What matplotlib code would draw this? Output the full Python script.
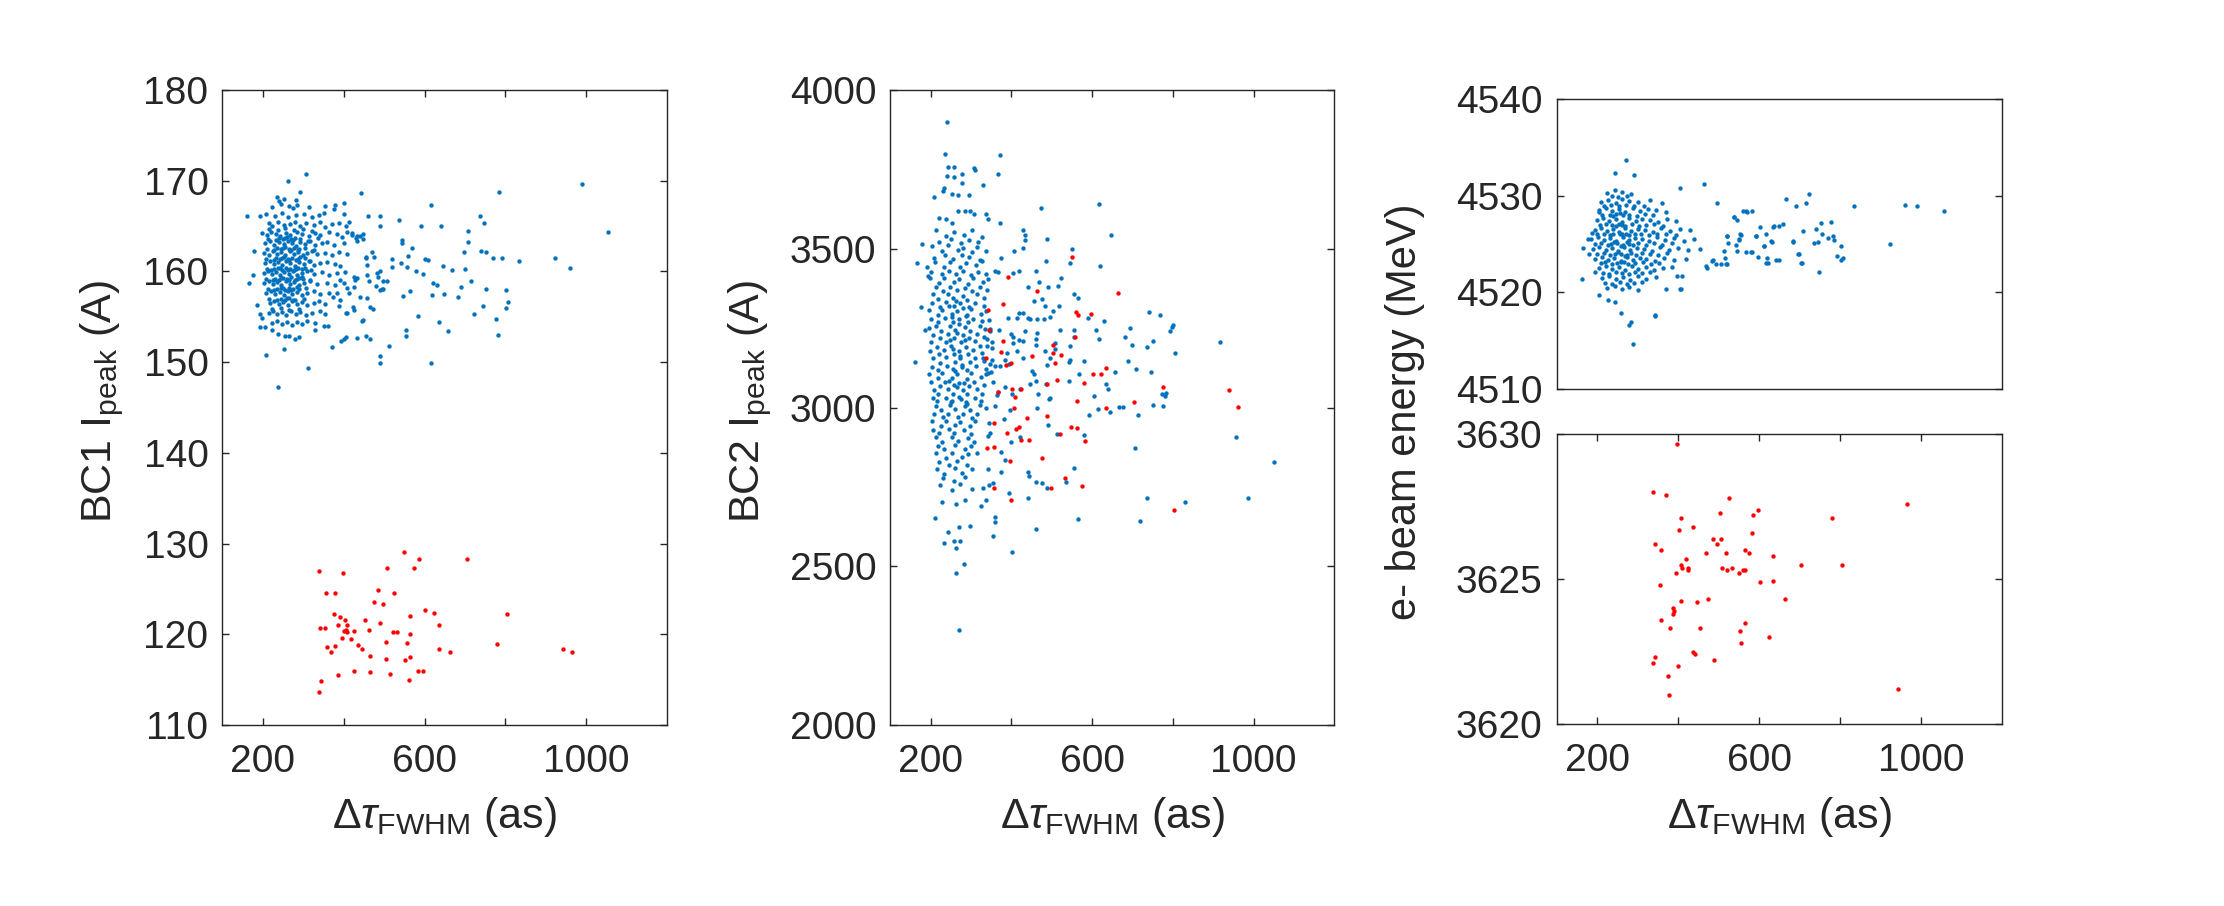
"""
Three scatter panels: BC1 / BC2 peak current and e-beam energy vs pulse duration
"""

import numpy as np
import matplotlib
matplotlib.use('Agg')
import matplotlib.pyplot as plt

plt.rcParams['font.family'] = ['Liberation Sans', 'DejaVu Sans']
plt.rcParams['mathtext.fontset'] = 'custom'
plt.rcParams['mathtext.rm'] = 'Liberation Sans'
plt.rcParams['mathtext.it'] = 'Liberation Sans:italic'
plt.rcParams['mathtext.bf'] = 'Liberation Sans:bold'

BLUE = '#0072BD'
RED = '#FF0000'
DARK = '#262626'

# ---------------- data: (delta tau [as], value) ----------------
# panel 1 : BC1 I_peak (A)
bc1_blue = [
    (307.8, 170.7), (262.5, 170.0), (291, 168.8), (442, 168.7), (614.8, 167.3), (784, 168.8),
    (989, 169.6), (1054, 164.4), (161, 166.1), (192.6, 166.1), (400.8, 167.5), (461, 166.1),
    (490.5, 166.1), (537.4, 165.7), (591, 165.0), (641, 165.0), (489.7, 165.0), (707.8, 164.5),
    (736.6, 166.1), (748, 165.3), (707.8, 163.2), (544.8, 163.5), (544.8, 163.1), (567.9, 162.6),
    (559.6, 161.7), (518.5, 161.4), (518.5, 160.5), (469, 162.1), (456, 161.6), (600.8, 161.4),
    (607.7, 161.3), (542, 160.9), (556.4, 160.5), (580, 160.1), (595, 159.7), (646, 160.6),
    (668, 160.2), (697, 162.1), (701, 160.3), (740, 162.2), (753, 162.1), (770, 161.5),
    (792.6, 161.5), (833.7, 161.2), (921.8, 161.5), (959.6, 160.4), (715, 159.0), (690.5, 158.3),
    (622, 158.7), (630, 158.5), (618, 157.4), (647.7, 157.5), (682, 157.2), (753, 158.1),
    (802.5, 158.0), (807.4, 156.6), (802.5, 156.0), (744, 156.2), (721, 155.3), (776, 154.8),
    (782, 153.0), (582.7, 155.1), (635.4, 154.4), (657.6, 153.4), (554, 153.5), (554, 152.9),
    (512, 151.8), (489, 150.7), (490.5, 149.9), (617, 149.9), (565, 157.8), (546.5, 157.3),
    (506, 158.9), (494.6, 158.1), (466, 152.6), (454, 152.9), (433.7, 152.7), (405.8, 152.8),
    (401.6, 152.6), (393, 152.3), (371, 151.7), (445, 154.5), (448.5, 154.6), (312, 149.4),
    (237, 147.3), (208, 150.8), (253.5, 151.5), (175, 159.6), (166, 158.75), (179, 162.2),
    (186.8, 156.3), (192.6, 155.3), (198, 154.9), (194, 153.9), (206.6, 153.9), (223, 153.5),
    (238, 153.1), (254, 152.9), (264, 152.9), (279, 152.6), (289, 152.8), (328, 153.5),
    (350.6, 154.0), (362, 154.0), (409, 155.4),
    (408, 164.4), (420, 164.0), (430, 163.7), (441, 163.9), (433, 163.3), (447, 163.6),
    (455, 161.5), (457.6, 160.7), (474, 161.6), (424.7, 159.4), (428.8, 159.1), (433, 159.3),
    (426, 158.3), (457.6, 159.6), (461.7, 158.9), (482, 159.8), (486, 159.4), (490.5, 160.0),
    (497, 158.9), (391.8, 159.1), (400, 158.7), (408, 158.2), (412, 157.6), (441, 157.2),
    (457.6, 157.1), (466, 156.1), (472, 155.9), (423, 156.1), (426, 155.8), (406.6, 155.4),
    (490.5, 158.0), (497, 158.1), (480.6, 158.4), (383.5, 157.6), (373.7, 157.2), (392, 156.9),
    (387.6, 156.2),
    (234, 168.2), (252, 168.0), (241, 167.8), (283, 167.9),
    (222, 167.1), (244, 167.4), (264, 167.2), (275, 167.0), (285, 167.3), (315, 167.1),
    (355, 167.2), (375, 166.9), (379, 167.3),
    (207, 166.3), (231, 166.1), (248, 166.4), (262, 166.0), (281, 166.2), (301, 166.3),
    (322, 166.0), (338, 166.2), (352, 166.4), (400, 166.3),
    (214.8, 165.3), (223, 165.0), (237, 165.4), (251.8, 165.1), (266.7, 165.2), (279, 165.5),
    (293, 165.0), (307.8, 165.3), (325.9, 165.1), (340.7, 165.4), (354.7, 164.9), (371.2, 165.2),
    (387.6, 165.3), (405.8, 165.0), (412.3, 165.4),
    (198.4, 164.2), (210.7, 164.0), (220.6, 164.3), (233.7, 164.1), (243.6, 163.9), (258.4, 164.2),
    (268.3, 164.0), (284.8, 164.3), (297.1, 164.1), (313.6, 163.9), (330, 164.2), (342.4, 164.0),
    (363, 164.3), (383.5, 164.1), (395.9, 163.8), (420.6, 164.2), (432.9, 163.9), (447.7, 164.1),
    (206.6, 163.1), (218.9, 163.3), (228.8, 162.9), (239.5, 163.2), (251.8, 163.0), (261.7, 163.3),
    (272.4, 163.1), (283.1, 162.8), (293, 163.2), (305.3, 163.0), (317.7, 163.3), (330, 162.9),
    (346.5, 163.1), (358.8, 163.2), (375.3, 162.9), (400, 163.1),
    (202.5, 162.0), (214.8, 161.8), (225.5, 162.2), (235.4, 161.9), (245.3, 162.1), (256, 161.8),
    (266.7, 162.2), (276.5, 161.9), (287.2, 162.1), (299.6, 161.8), (309.5, 162.0), (321.8, 162.2),
    (334.1, 161.9), (354.7, 162.0), (371.2, 161.8), (387.6, 162.1), (408.2, 161.9),
    (206.6, 160.9), (217.3, 161.1), (227.2, 160.8), (237.9, 161.0), (247.7, 160.7), (258.4, 161.1),
    (268.3, 160.9), (279, 160.6), (289.7, 161.0), (301.2, 160.8), (313.6, 161.1), (325.9, 160.7),
    (342.4, 160.9), (358.8, 161.0), (379.4, 160.8), (391.8, 160.6),
    (202.5, 159.8), (213.2, 160.0), (223, 159.7), (233.7, 159.9), (243.6, 159.6), (253.5, 159.9),
    (264.2, 159.7), (274.9, 160.0), (284.8, 159.6), (297.1, 159.8), (309.5, 160.0), (325.9, 159.7),
    (346.5, 159.9), (363, 159.6), (383.5, 159.8), (404.1, 159.9),
    (202.5, 158.7), (214.8, 158.9), (225.5, 158.6), (235.4, 158.8), (246, 158.5), (256.8, 158.9),
    (266.7, 158.6), (278.2, 158.8), (289.7, 158.5), (302.9, 158.7), (317.7, 158.9), (334.1, 158.6),
    (358.8, 158.7), (379.4, 158.5),
    (209, 157.6), (220.6, 157.8), (231.3, 157.5), (242, 157.7), (251.8, 157.4), (262.5, 157.8),
    (273.2, 157.5), (284.8, 157.7), (297.1, 157.4), (309.5, 157.6), (327.6, 157.8), (342.4, 157.5),
    (363, 157.6),
    (218.9, 156.5), (228.8, 156.7), (239.5, 156.4), (250.2, 156.6), (261.7, 156.3), (272.4, 156.7),
    (284.8, 156.4), (297.1, 156.6), (309.5, 156.3), (325.9, 156.5), (338.3, 156.7), (354.7, 156.4),
    (214.8, 155.4), (225.5, 155.6), (235.4, 155.3), (247.7, 155.5), (258.4, 155.2), (270, 155.6),
    (282.3, 155.3), (293, 155.5), (307.8, 155.2), (321.8, 155.4), (340.7, 155.6), (354.7, 155.3),
    (223, 154.3), (235.4, 154.5), (247.7, 154.2), (260, 154.4), (272.4, 154.1), (284.8, 154.4),
    (297.1, 154.2), (309.5, 154.5), (330, 154.3),
    (228, 160.3), (238, 160.4), (248, 160.2), (258, 160.4), (268, 160.3), (278, 160.2),
    (288, 160.4), (298, 160.3), (232, 161.5), (242, 161.4), (252, 161.6), (262, 161.4),
    (272, 161.5), (282, 161.3), (292, 161.6), (230, 159.2), (240, 159.1), (250, 159.3),
    (260, 159.2), (270, 159.4), (280, 159.1), (290, 159.3), (300, 159.2), (236, 162.6),
    (246, 162.5), (256, 162.7), (266, 162.5), (276, 162.6), (286, 162.4), (234, 158.1),
    (244, 158.2), (254, 158.0), (264, 158.2), (274, 158.1), (284, 158.3), (240, 163.7),
    (250, 163.6), (260, 163.8), (270, 163.6), (280, 163.7), (245, 157.0), (255, 156.9),
    (265, 157.1), (275, 156.9),
    (216, 164.7), (238, 164.6), (256, 164.8), (276, 164.6), (299, 164.7), (322, 164.5),
    (212, 163.6), (232, 163.5), (254, 163.7), (275, 163.5), (292, 163.6), (311, 163.4), (336, 163.7),
    (210, 162.5), (228, 162.4), (249, 162.6), (270, 162.4), (290, 162.5), (305, 162.6), (326, 162.4),
    (209, 161.4), (227, 161.3), (247, 161.5), (264, 161.3), (286, 161.4), (305, 161.5), (318, 161.2),
    (210, 160.3), (220, 160.2), (243, 160.4), (262, 160.2), (283, 160.3), (305, 160.4), (320, 160.2),
    (209, 159.2), (226, 159.1), (246, 159.3), (264, 159.1), (285, 159.2), (296, 159.4), (317, 159.1),
    (212, 158.1), (229, 158.0), (250, 158.2), (269, 158.0), (289, 158.1), (307, 158.2),
    (215, 157.0), (236, 156.9), (260, 157.1), (280, 156.9), (301, 157.0),
    (222, 155.9), (244, 156.0), (266, 155.8), (289, 155.9),
]

bc1_red = [
    (338, 127.0), (398, 126.8), (549, 129.1), (586, 128.3), (704, 128.3), (508, 127.3),
    (574, 127.3), (357, 124.5), (378.6, 124.5), (486, 124.9), (524, 124.6), (475, 123.6),
    (496, 123.3), (376, 122.2), (390, 121.9), (402.5, 121.6), (602, 122.7), (624, 122.4),
    (565, 122.0), (804, 122.2), (342, 120.65), (355, 120.65), (387, 121.0), (409, 121.0),
    (489, 121.2), (453, 121.6), (635, 121.0), (400, 120.4), (406, 120.4), (409, 120.3),
    (406, 120.5), (425.5, 120.4), (462.5, 120.5), (521, 120.3), (532, 120.2), (564, 120.0),
    (396, 119.6), (419, 119.5), (504.5, 119.1), (556, 119.0), (778.6, 118.9), (359, 118.6),
    (378, 118.7), (369, 118.0), (435, 118.8), (446, 118.4), (635, 118.4), (663, 118.0),
    (943, 118.4), (964, 118.0), (465, 117.6), (504.5, 117.3), (552, 117.2), (564.6, 117.5),
    (387, 115.5), (425.5, 116.0), (466, 115.8), (514, 115.6), (583, 115.9), (597, 115.9),
    (562, 115.0), (344, 114.8), (338, 113.6),
]

# panel 2 : BC2 I_peak (A)
bc2_blue = [
    (241, 3900), (236, 3800), (372, 3796), (368, 3734), (243.6, 3756), (258, 3756),
    (240, 3728), (257, 3725), (277, 3736), (277, 3708), (308, 3754), (311, 3749),
    (329, 3700), (208, 3664), (231, 3683), (233, 3692), (253, 3673), (267, 3668),
    (295, 3668), (220, 3596), (238, 3594), (253, 3582), (267, 3620), (286, 3619),
    (298, 3618), (307, 3610), (337, 3609), (341, 3594), (372, 3582), (473, 3628),
    (616, 3640), (646, 3544), (620, 3445), (551, 3499), (546, 3455), (489, 3532),
    (486, 3460), (429, 3560), (433, 3544), (433, 3526), (428, 3503), (406, 3493),
    (374, 3471), (179, 3516), (165, 3455), (191, 3442), (193, 3414), (175, 3318),
    (161, 3144), (187, 3245), (195, 3249),
    (360, 3429), (366, 3427), (403, 3425), (418, 3429), (461, 3429), (441, 3378),
    (469, 3395), (490, 3378), (515, 3383), (522, 3409), (555, 3359), (564, 3344),
    (457, 3336), (476, 3341), (484, 3320), (495, 3285), (504, 3305), (518, 3320),
    (480, 3278), (463, 3278), (446, 3278), (440, 3281), (428, 3297), (419, 3297),
    (413, 3281), (392, 3281), (590, 3281), (610, 3243), (618, 3217), (629, 3271),
    (742, 3302), (767, 3290), (800, 3261), (798, 3254), (792, 3241), (806, 3171),
    (695, 3251), (681, 3223), (699, 3196), (737, 3190), (752, 3210), (690, 3145),
    (708, 3120), (747, 3113), (657, 3113), (677, 3002), (581, 3147), (568, 3106),
    (554, 3243), (555, 3223), (544, 3195), (544, 3150), (495, 3155), (487, 3134),
    (484, 3179), (462, 3197), (461, 3216), (464, 3234), (520, 3243), (508, 3203),
    (509, 3184), (434, 3240), (429, 3209), (418, 3212), (428, 3155), (400, 3233),
    (403, 3202), (403, 3223), (414, 3177), (388, 3172), (384, 3150), (369, 3245),
    (347, 3247), (348, 3240), (452, 3115), (455, 3107), (460, 3082), (446, 3074),
    (465, 3043), (486, 3074), (495, 3031), (493, 3026), (543, 3082), (542, 3142),
    (634, 3074), (640, 3059), (605, 3036), (667, 3002), (752, 3009), (775, 3004),
    (783, 3045), (781, 3035), (421, 3059), (402, 3041), (384, 3064), (365, 3038),
    (368, 3048), (372, 3130), (393, 3137), (360, 3130), (346, 3137), (352, 3149),
    (349, 3111), (342, 3108), (355, 3081), (339, 3216), (340, 3195), (329, 3156),
    (351, 3206), (352, 3186),
    (918, 3207), (957, 2908), (1051, 2828), (987, 2715), (830, 2701), (774, 3043),
    (269, 2298), (262, 2480), (283, 2508), (234, 2574), (259, 2579), (262, 2556),
    (273, 2579), (244, 2608), (270, 2623), (297, 2626), (210, 2651), (354, 2596),
    (360, 2640), (360, 2656), (401, 2544), (461, 2618), (566, 2649), (719, 2643),
    (736, 2715), (706, 2874), (556, 2810), (536, 2764), (324, 2689), (336, 2708),
    (440, 2714), (393, 2730), (354, 2761), (344, 2756), (330, 2746), (342, 2807),
    (374, 2796), (442, 2797), (444, 2785), (460, 2766), (477, 2762), (487, 2747),
    (383, 2836), (374, 2859), (400, 2892), (422, 2906), (464, 2999), (491, 2945),
    (514, 2917), (579, 2914), (593, 2976), (614, 2994), (645, 2985), (714, 2975),
    (314, 2857), (341, 2911), (346, 2921), (382, 2965), (397, 2991), (344, 2950),
    (359, 3005), (338, 2998),
    # dense core
    (213, 3558), (238, 3541), (259, 3553), (283, 3544), (303, 3560), (327, 3537),
    (203, 3509), (227, 3492), (244, 3511), (268, 3496), (279, 3503), (302, 3489),
    (316, 3507), (338, 3494),
    (211, 3457), (233, 3441), (248, 3458), (273, 3444), (287, 3455), (313, 3448), (326, 3460),
    (199, 3407), (221, 3391), (234, 3409), (257, 3394), (269, 3405), (293, 3390),
    (306, 3408), (329, 3396), (343, 3404),
    (207, 3356), (219, 3341), (243, 3357), (256, 3344), (279, 3351), (291, 3340),
    (315, 3358), (333, 3346),
    (196, 3306), (217, 3291), (229, 3308), (253, 3294), (265, 3305), (289, 3292),
    (301, 3309), (325, 3295), (338, 3304),
    (212, 3256), (226, 3241), (249, 3258), (261, 3244), (285, 3255), (297, 3242),
    (321, 3257), (334, 3247),
    (202, 3206), (216, 3192), (239, 3207), (251, 3194), (275, 3205), (287, 3191),
    (311, 3208), (323, 3195),
    (207, 3156), (224, 3141), (237, 3158), (261, 3144), (273, 3155), (297, 3142),
    (309, 3157), (333, 3145),
    (196, 3106), (218, 3092), (229, 3108), (253, 3094), (265, 3105), (289, 3091),
    (301, 3108), (325, 3095), (337, 3104),
    (208, 3056), (219, 3041), (243, 3058), (255, 3044), (279, 3055), (291, 3042),
    (315, 3058), (327, 3044),
    (212, 3006), (225, 2991), (249, 3008), (261, 2994), (285, 3005), (297, 2991), (321, 3007),
    (203, 2956), (225, 2941), (237, 2958), (261, 2944), (273, 2955), (297, 2942), (309, 2958),
    (213, 2906), (227, 2891), (253, 2908), (267, 2894), (293, 2905), (307, 2891),
    (212, 2856), (238, 2841), (252, 2858), (278, 2844), (292, 2855),
    (215, 2806), (232, 2791), (261, 2808), (277, 2794), (303, 2805),
    (222, 2756), (253, 2741), (272, 2758), (303, 2744),
    (220, 3521), (251, 3530), (274, 3518), (296, 3528), (318, 3522),
    (208, 3471), (236, 3480), (256, 3468), (277, 3479), (295, 3473), (322, 3466),
    (202, 3428), (227, 3419), (245, 3431), (263, 3421), (281, 3430), (299, 3418),
    (318, 3427), (337, 3421),
    (213, 3379), (231, 3368), (249, 3381), (266, 3370), (284, 3377), (303, 3367),
    (321, 3380), (339, 3371),
    (203, 3329), (224, 3318), (238, 3331), (259, 3320), (273, 3328), (296, 3317),
    (309, 3330), (331, 3321),
    (201, 3279), (219, 3268), (236, 3281), (255, 3270), (271, 3278), (292, 3268),
    (306, 3280), (327, 3271), (344, 3276),
    (207, 3229), (222, 3219), (244, 3231), (258, 3220), (279, 3228), (294, 3218),
    (315, 3230), (331, 3222),
    (199, 3179), (221, 3169), (233, 3181), (257, 3170), (269, 3178), (293, 3168),
    (304, 3181), (328, 3171),
    (204, 3129), (218, 3119), (241, 3131), (256, 3121), (277, 3128), (291, 3118),
    (313, 3130), (336, 3121),
    (202, 3079), (224, 3069), (236, 3081), (259, 3070), (271, 3078), (295, 3068),
    (307, 3080), (331, 3071),
    (205, 3029), (216, 3019), (239, 3031), (253, 3020), (276, 3028), (288, 3018),
    (309, 3030), (324, 3021),
    (208, 2979), (231, 2969), (243, 2981), (267, 2970), (279, 2978), (303, 2968), (315, 2980),
    (206, 2929), (221, 2919), (245, 2931), (258, 2920), (283, 2928), (301, 2918),
    (218, 2879), (233, 2869), (261, 2881), (286, 2870), (299, 2878),
    (221, 2829), (246, 2819), (266, 2831), (289, 2820),
    (231, 2779), (258, 2769), (286, 2781),
    (228, 2702), (262, 2695), (285, 2710),
    (245, 3320), (262, 3336), (280, 3312), (252, 3284), (270, 3262), (288, 3287),
    (248, 3214), (266, 3236), (284, 3212), (255, 3184), (273, 3163), (260, 3116),
    (278, 3134), (245, 3084), (265, 3064), (283, 3077), (250, 3016), (270, 3034),
    (290, 3012),
]

bc2_red = [
    (551, 3473), (391, 3410), (463, 3366), (663, 3361), (342, 3306), (378, 3325),
    (561, 3302), (564, 3291), (596, 3296), (345, 3245), (378, 3211), (557, 3223),
    (503, 3198), (504, 3173), (524, 3166), (508, 3139), (452, 3161), (338, 3155),
    (375, 3174), (387, 3135), (400, 3139), (635, 3123), (622, 3104), (601, 3106),
    (581, 3078), (514, 3088), (487, 3074), (423, 3059), (402, 3059), (368, 3048),
    (408, 3032), (562, 3021), (635, 2999), (776, 3063), (703, 3016), (406, 3000),
    (940, 3054), (962, 3001), (802, 2678),
    (358, 2952), (389, 2919), (411, 2932), (420, 2940), (438, 2966), (487, 2973),
    (424, 2897), (444, 2898), (520, 2918), (548, 2939), (563, 2937), (583, 2893),
    (339, 2873), (357, 2876), (396, 2832), (475, 2841), (356, 2746), (399, 2709),
    (498, 2748), (533, 2778), (576, 2753),
]

# panel 3 : e- beam energy (MeV), blue = upper range, red = lower range
e_blue = [
    (272, 4533.7), (244.7, 4532.4), (292.4, 4532.2), (462.8, 4531.2), (405, 4530.8),
    (667, 4529.7), (691.6, 4528.9), (714.6, 4529.3), (560, 4528.4), (583, 4528.4),
    (570, 4528.3), (538, 4527.8), (546, 4527.5), (497, 4529.3), (601, 4526.8),
    (636, 4526.9), (648, 4526.9), (659, 4527.1), (708, 4526.4), (683, 4525.3),
    (616, 4526.1), (593, 4525.8), (554, 4526.0), (550, 4525.5), (521, 4525.8),
    (543, 4524.9), (545, 4524.3), (568, 4524.2), (580, 4524.2), (611, 4524.8),
    (630, 4525.3), (596, 4523.7), (619, 4523.6), (617, 4523.0), (642, 4523.4),
    (649, 4523.4), (698, 4524.0), (705, 4523.0), (520, 4522.9), (506, 4522.9),
    (517, 4523.6), (469, 4522.7), (486, 4523.4), (398, 4521.7), (409, 4521.7),
    (404, 4520.4), (371, 4520.4), (343, 4517.7), (260, 4517.9), (283, 4516.9),
    (280, 4516.6), (288, 4514.7), (244, 4519.0), (227, 4519.2), (206, 4519.7),
    (163, 4521.4), (166.5, 4524.6), (178, 4525.5), (180, 4524.0), (188, 4526.2),
    (194.5, 4522.1), (204, 4528.3),
    (1055, 4528.4), (960, 4529.1), (989, 4528.9), (922, 4525.0), (834, 4528.9),
    (722, 4530.2), (777, 4527.3), (753, 4527.2), (740, 4526.6), (755, 4526.0),
    (771, 4525.6), (783, 4525.8), (785, 4525.4), (803, 4524.8), (792, 4523.8),
    (806, 4523.6), (802, 4523.4), (748, 4522.1), (736.5, 4525.1), (745.6, 4525.2),
    (684, 4525.2), (703.6, 4523.0), (697, 4524.0), (631, 4525.2), (635, 4526.8),
    (622, 4523.0), (612, 4524.8), (592, 4525.8), (582, 4524.2), (567, 4528.4),
    (539, 4527.8), (551, 4525.4), (554.6, 4525.9), (521, 4525.8), (524, 4525.1),
    (513, 4524.3), (518, 4522.9), (494, 4522.9), (484, 4523.3), (471, 4522.5),
    (407, 4520.4), (343, 4517.6),
    (225, 4530.3), (245, 4530.6), (262, 4530.4), (285, 4530.2),
    (210, 4529.4), (228, 4529.6), (246, 4529.3), (262, 4529.7), (280, 4529.5),
    (300, 4529.4), (330, 4529.6), (360, 4529.3),
    (205, 4528.5), (222, 4528.7), (238, 4528.4), (255, 4528.6), (270, 4528.3),
    (288, 4528.7), (305, 4528.4), (325, 4528.6), (345, 4528.5), (370, 4528.3),
    (200, 4527.5), (215, 4527.7), (230, 4527.4), (246, 4527.6), (262, 4527.3),
    (278, 4527.7), (295, 4527.4), (312, 4527.6), (330, 4527.5), (350, 4527.3),
    (372, 4527.6), (395, 4527.4),
    (195, 4526.5), (210, 4526.7), (225, 4526.4), (240, 4526.6), (255, 4526.3),
    (270, 4526.7), (285, 4526.4), (300, 4526.6), (318, 4526.5), (338, 4526.3),
    (358, 4526.7), (380, 4526.4), (405, 4526.6), (430, 4526.5),
    (185, 4525.5), (202, 4525.7), (218, 4525.4), (233, 4525.6), (248, 4525.3),
    (263, 4525.7), (278, 4525.4), (293, 4525.6), (310, 4525.5), (328, 4525.3),
    (348, 4525.7), (368, 4525.4), (390, 4525.6), (415, 4525.3), (440, 4525.5),
    (190, 4524.5), (206, 4524.7), (222, 4524.4), (237, 4524.6), (252, 4524.3),
    (267, 4524.7), (282, 4524.4), (298, 4524.6), (315, 4524.5), (335, 4524.3),
    (355, 4524.7), (378, 4524.4), (400, 4524.6), (425, 4524.4), (455, 4524.5),
    (196, 4523.5), (212, 4523.7), (228, 4523.4), (243, 4523.6), (258, 4523.3),
    (273, 4523.7), (288, 4523.4), (305, 4523.6), (322, 4523.5), (342, 4523.3),
    (365, 4523.6), (390, 4523.4), (420, 4523.5),
    (205, 4522.5), (222, 4522.7), (238, 4522.4), (254, 4522.6), (270, 4522.3),
    (286, 4522.7), (302, 4522.4), (320, 4522.6), (340, 4522.3), (362, 4522.5),
    (385, 4522.6),
    (212, 4521.5), (230, 4521.7), (248, 4521.4), (265, 4521.6), (282, 4521.3),
    (300, 4521.7), (320, 4521.4), (345, 4521.6),
    (225, 4520.5), (245, 4520.7), (262, 4520.4), (280, 4520.6), (300, 4520.3),
    (235, 4525.0), (250, 4525.1), (265, 4524.9), (280, 4525.0), (240, 4526.0),
    (256, 4526.0), (272, 4526.1), (245, 4524.0), (260, 4524.0), (275, 4523.9),
    (238, 4527.0), (254, 4527.1), (270, 4526.9), (250, 4523.0), (266, 4523.1),
    (232, 4528.0), (248, 4528.1), (264, 4528.0),
    (236, 4530.0), (252, 4529.9), (273, 4530.0),
    (218, 4529.0), (235, 4529.1), (253, 4528.9), (271, 4529.1), (292, 4528.9), (315, 4529.0),
    (212, 4528.0), (240, 4527.9), (257, 4528.2), (280, 4528.0), (298, 4527.9), (318, 4528.1),
    (338, 4528.0),
    (207, 4527.0), (222, 4527.1), (246, 4526.9), (262, 4527.0), (286, 4527.1), (303, 4526.9),
    (322, 4527.0), (341, 4527.1), (362, 4526.9),
    (200, 4526.0), (218, 4526.1), (232, 4525.9), (262, 4526.1), (279, 4525.9), (293, 4526.0),
    (309, 4526.1), (328, 4525.9), (347, 4526.0), (370, 4526.1), (395, 4525.9),
    (196, 4525.0), (210, 4525.1), (226, 4524.9), (242, 4525.2), (258, 4524.8), (273, 4525.2),
    (288, 4524.9), (302, 4525.1), (320, 4524.9), (340, 4525.1), (360, 4524.9), (384, 4525.1),
    (201, 4524.0), (216, 4524.1), (232, 4523.9), (252, 4524.2), (268, 4523.8), (283, 4524.1),
    (296, 4523.9), (312, 4524.1), (330, 4524.0), (350, 4523.9), (372, 4524.1),
    (209, 4523.0), (220, 4523.1), (236, 4522.9), (258, 4523.1), (276, 4522.9), (294, 4523.0),
    (314, 4523.1), (332, 4522.9), (352, 4523.0),
    (214, 4522.0), (230, 4521.9), (246, 4522.1), (262, 4522.0), (278, 4521.9), (294, 4522.1),
    (312, 4522.0), (330, 4522.1),
    (220, 4521.0), (238, 4520.9), (256, 4521.1), (273, 4520.9), (291, 4521.0), (310, 4521.1),
]

e_red = [
    (398, 3629.65), (339, 3628.0), (370, 3627.9), (525, 3627.8), (964, 3627.6),
    (597, 3627.4), (586, 3627.2), (504, 3627.3), (407, 3627.1), (403, 3626.7),
    (435.6, 3626.8), (778.6, 3627.1), (583, 3626.6), (487, 3626.4), (506, 3626.4),
    (497, 3626.2), (344, 3626.2), (357, 3626.0), (469, 3625.9), (518, 3625.9),
    (565, 3626.0), (574.5, 3625.9), (634.6, 3625.8), (419, 3625.7), (408, 3625.5),
    (410, 3625.4), (425, 3625.4), (425, 3625.3), (396, 3625.2), (508, 3625.4),
    (532, 3625.4), (521, 3625.3), (550, 3625.2), (561, 3625.3), (565, 3625.3),
    (704, 3625.5), (804, 3625.5), (355, 3624.8), (603, 3624.9), (635, 3624.95),
    (407, 3624.25), (446, 3624.2), (475, 3624.3), (663, 3624.3), (387, 3624.0),
    (390, 3623.9), (388, 3623.8), (359, 3623.6), (379, 3623.3), (453, 3623.3),
    (564, 3623.5), (552, 3623.2), (556, 3622.8), (624, 3623.0), (438, 3622.5),
    (442.6, 3622.4), (489, 3622.2), (342, 3622.3), (338.5, 3622.1), (400, 3622.0),
    (376, 3621.65), (378, 3621.0), (943, 3621.2),
]

x_ticks = [200, 400, 600, 800, 1000]
x_tick_labels = ['200', '', '600', '', '1000']
bc1_ticks = [110, 120, 130, 140, 150, 160, 170, 180]
bc2_ticks = [2000, 2500, 3000, 3500, 4000]
e_hi_ticks = [4510, 4520, 4530, 4540]
e_lo_ticks = [3620, 3625, 3630]

# ---------------- figure ----------------
W, H = 2224, 906
fig = plt.figure(figsize=(W / 100, H / 100), dpi=100)


def box(l, t, r, b):
    return [l / W, 1 - b / H, (r - l) / W, (b - t) / H]


def style(ax, yticks, ylim, xlabels=True):
    ax.set_xlim(100, 1200)
    ax.set_ylim(*ylim)
    ax.set_yticks(yticks)
    ax.set_xticks(x_ticks)
    ax.set_xticklabels(x_tick_labels)
    for s in ax.spines.values():
        s.set_linewidth(1.0)
        s.set_color(DARK)
    ax.tick_params(direction='in', top=True, right=True, length=5, width=1.0,
                   labelsize=28, colors=DARK)
    ax.tick_params(axis='x', pad=14)
    ax.tick_params(axis='y', pad=10)
    if not xlabels:
        ax.tick_params(axis='x', bottom=False, top=False, labelbottom=False)


def scatter(ax, pts, color):
    a = np.array(pts)
    ax.scatter(a[:, 0], a[:, 1], s=10, c=color, linewidths=0, zorder=3)


xlab = r'$\Delta\tau_{\mathrm{FWHM}}$ (as)'

# panel 1
ax1 = fig.add_axes(box(222.3, 90, 667.3, 725))
scatter(ax1, bc1_blue, BLUE)
scatter(ax1, bc1_red, RED)
style(ax1, bc1_ticks, (110, 180))

# panel 2
ax2 = fig.add_axes(box(890.3, 90, 1334.3, 725))
scatter(ax2, bc2_blue, BLUE)
scatter(ax2, bc2_red, RED)
style(ax2, bc2_ticks, (2000, 4000))

# panel 3 (broken axis)
ax3 = fig.add_axes(box(1556.5, 99.3, 2002.3, 389))
scatter(ax3, e_blue, BLUE)
style(ax3, e_hi_ticks, (4510, 4540), xlabels=False)

ax4 = fig.add_axes(box(1556.5, 434.3, 2002.3, 724))
scatter(ax4, e_red, RED)
style(ax4, e_lo_ticks, (3620, 3630))

# labels
fig.text(102 / W, 1 - 402 / H, r'BC1 I$_{\mathrm{peak}}$ (A)', rotation=90,
         ha='center', va='center', fontsize=31, color=DARK)
fig.text(750 / W, 1 - 402 / H, r'BC2 I$_{\mathrm{peak}}$ (A)', rotation=90,
         ha='center', va='center', fontsize=31, color=DARK)
fig.text(1405 / W, 1 - 411.5 / H, 'e- beam energy (MeV)', rotation=90,
         ha='center', va='center', fontsize=30, color=DARK)

for cx in [444.8, 1112.3, 1779.4]:
    fig.text(cx / W, 1 - 795 / H, xlab, ha='center', va='top', fontsize=31, color=DARK)

fig.savefig('out.png', dpi=100)
